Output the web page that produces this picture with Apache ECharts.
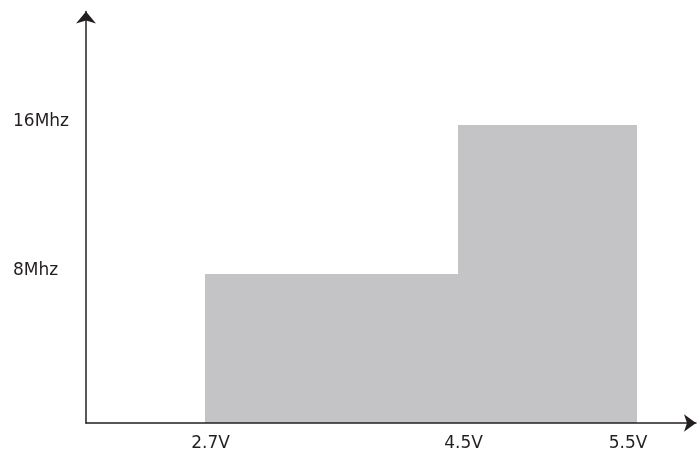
<!DOCTYPE html>
<html>
<head>
<meta charset="utf-8">
<script src="https://cdn.jsdelivr.net/npm/echarts@6/dist/echarts.min.js"></script>
<style>
html,body{margin:0;padding:0;background:#fff;}
#chart{width:698px;height:452px;}
</style>
</head>
<body>
<div id="chart"></div>
<script>
// Data
const voltageEdges = [2.7, 4.5, 5.5];          // V, step boundaries
const maxFreqMHz = [8, 16];                    // MHz for each voltage segment
const xTickValues = [2.7, 4.5, 5.5];
const xTickLabels = ['2.7V', '4.5V', '5.5V'];
const yTickValues = [8, 16];
const yTickLabels = ['8Mhz', '16Mhz'];

const Y_MAX = 22.1;
const TEXT = '#231f20';
const BAR = '#c4c4c6';
const FONT = 'DejaVu Sans';
const FS = 17;

const chart = echarts.init(document.getElementById('chart'), null, {renderer: 'canvas'});

function rectItem(params, api) {
  const p0 = api.coord([api.value(0), api.value(2)]);
  const p1 = api.coord([api.value(1), 0]);
  return {
    type: 'rect',
    shape: {x: p0[0], y: p0[1], width: p1[0] - p0[0], height: p1[1] - p0[1]},
    style: {fill: BAR}
  };
}

const seg1 = [[voltageEdges[0], voltageEdges[1], maxFreqMHz[0]]];
const seg2 = [[voltageEdges[1], voltageEdges[2], maxFreqMHz[1]]];

function yLabel(v) {
  const i = yTickValues.indexOf(v);
  return i >= 0 ? yTickLabels[i] : '';
}
function xLabel(v) {
  const i = xTickValues.findIndex(t => Math.abs(t - v) < 1e-6);
  return i >= 0 ? xTickLabels[i] : '';
}

const common = {top: 11.4, bottom: 29};
const hiddenY = (gi) => ({type: 'value', gridIndex: gi, min: 0, max: Y_MAX, show: false});

chart.setOption({
  animation: false,
  backgroundColor: '#fff',
  grid: [
    {left: 86, right: 2, top: common.top, bottom: common.bottom},
    {left: 205, width: 253, top: common.top, bottom: common.bottom},
    {left: 458, width: 179, top: common.top, bottom: common.bottom}
  ],
  xAxis: [
    {
      type: 'value', gridIndex: 0, min: 0, max: 1, z: 10,
      splitLine: {show: false}, axisTick: {show: false}, axisLabel: {show: false},
      axisLine: {show: true, onZero: false, symbol: ['none', 'arrow'], symbolSize: [13, 12],
        lineStyle: {color: TEXT, width: 1.5}}
    },
    {
      type: 'value', gridIndex: 1, min: voltageEdges[0], max: voltageEdges[1],
      splitLine: {show: false}, axisTick: {show: false}, axisLine: {show: false},
      axisLabel: {
        customValues: [xTickValues[0], xTickValues[1]],
        formatter: xLabel, margin: 12, padding: [0, 0, 0, 11],
        color: TEXT, fontFamily: FONT, fontSize: FS
      }
    },
    {
      type: 'value', gridIndex: 2, min: voltageEdges[1], max: voltageEdges[2],
      splitLine: {show: false}, axisTick: {show: false}, axisLine: {show: false},
      axisLabel: {
        customValues: [xTickValues[2]],
        formatter: xLabel, margin: 12, padding: [0, 18, 0, 0],
        color: TEXT, fontFamily: FONT, fontSize: FS
      }
    }
  ],
  yAxis: [
    {
      type: 'value', gridIndex: 0, min: 0, max: Y_MAX, z: 10,
      splitLine: {show: false}, axisTick: {show: false},
      axisLine: {show: true, onZero: false, symbol: ['none', 'arrow'], symbolSize: [15, 12],
        lineStyle: {color: TEXT, width: 1.5}},
      axisLabel: {
        customValues: yTickValues,
        formatter: yLabel, align: 'left', margin: 73,
        verticalAlign: 'bottom', lineHeight: 6,
        color: TEXT, fontFamily: FONT, fontSize: FS
      }
    },
    hiddenY(1),
    hiddenY(2)
  ],
  series: [
    {type: 'custom', xAxisIndex: 1, yAxisIndex: 1, renderItem: rectItem, data: seg1,
      encode: {x: [0, 1], y: 2}, silent: true},
    {type: 'custom', xAxisIndex: 2, yAxisIndex: 2, renderItem: rectItem, data: seg2,
      encode: {x: [0, 1], y: 2}, silent: true}
  ]
});
</script>
</body>
</html>
